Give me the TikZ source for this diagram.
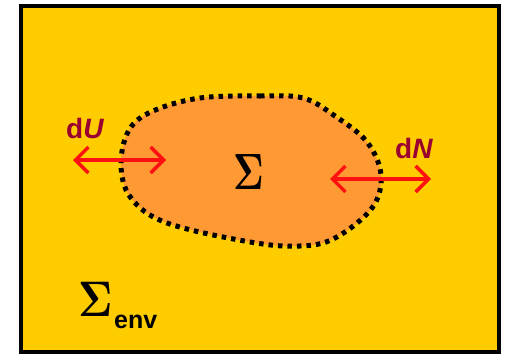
\documentclass[tikz,border=0pt]{standalone}
\usepackage[no-math]{fontspec}
\newfontfamily\labelfont{Liberation Sans}
\usetikzlibrary{arrows.meta}
\definecolor{envyellow}{HTML}{FFCC00}
\definecolor{sysorange}{HTML}{FF9933}
\definecolor{flowred}{HTML}{FF1010}
\definecolor{labelred}{HTML}{9A0030}
\tikzset{
  flux/.style={draw=flowred, line width=3.5pt,
    {Straight Barb[length=13pt,width=26pt,line width=3.5pt]}-{Straight Barb[length=13pt,width=26pt,line width=3.5pt]}},
  fluxlabel/.style={text=labelred, font=\labelfont\bfseries\fontsize{28}{30}\selectfont, inner sep=0pt},
  boundary/.style={draw=black, line width=5pt, dash pattern=on 4.5pt off 5pt, fill=sysorange},
  bigsigma/.style={inner sep=0pt, xscale=3.7, yscale=5.1}
}
\begin{document}
\begin{tikzpicture}[x=1pt,y=-1pt]
\useasboundingbox (0,0) rectangle (506,356);
% environment
\draw[fill=envyellow, line width=4pt] (21,6) rectangle (499,352);
% system boundary
\draw[boundary] plot[smooth cycle, tension=0.6] coordinates {
  (200,98) (260,96) (303,98) (335,116) (367,142) (381,175) (372,208)
  (335,238) (300,246) (250,242) (167,223) (131,198) (121,165)
  (129,130) (153,111)};
% labels
\node[bigsigma] (sys) at (249,172.5) {$\mathbf{\Sigma}$};
\node[bigsigma, xscale=1.12, yscale=0.98, anchor=south west] (env) at (78,317) {$\mathbf{\Sigma}$};
\node[anchor=base west, inner sep=0pt, font=\labelfont\bfseries\fontsize{25}{27}\selectfont]
  (envsub) at (114,328) {env};
% heat and particle exchange
\coordinate (uL) at (73,160);
\coordinate (uR) at (166,160);
\coordinate (nL) at (330,179);
\coordinate (nR) at (431,179);
\draw[flux] (uL) -- (uR);
\draw[flux] (nL) -- (nR);
\node[fluxlabel, anchor=base west] (dU) at (66,138) {d\textit{U}};
\node[fluxlabel, anchor=base west] (dN) at (395,158) {d\textit{N}};
\end{tikzpicture}
\end{document}
